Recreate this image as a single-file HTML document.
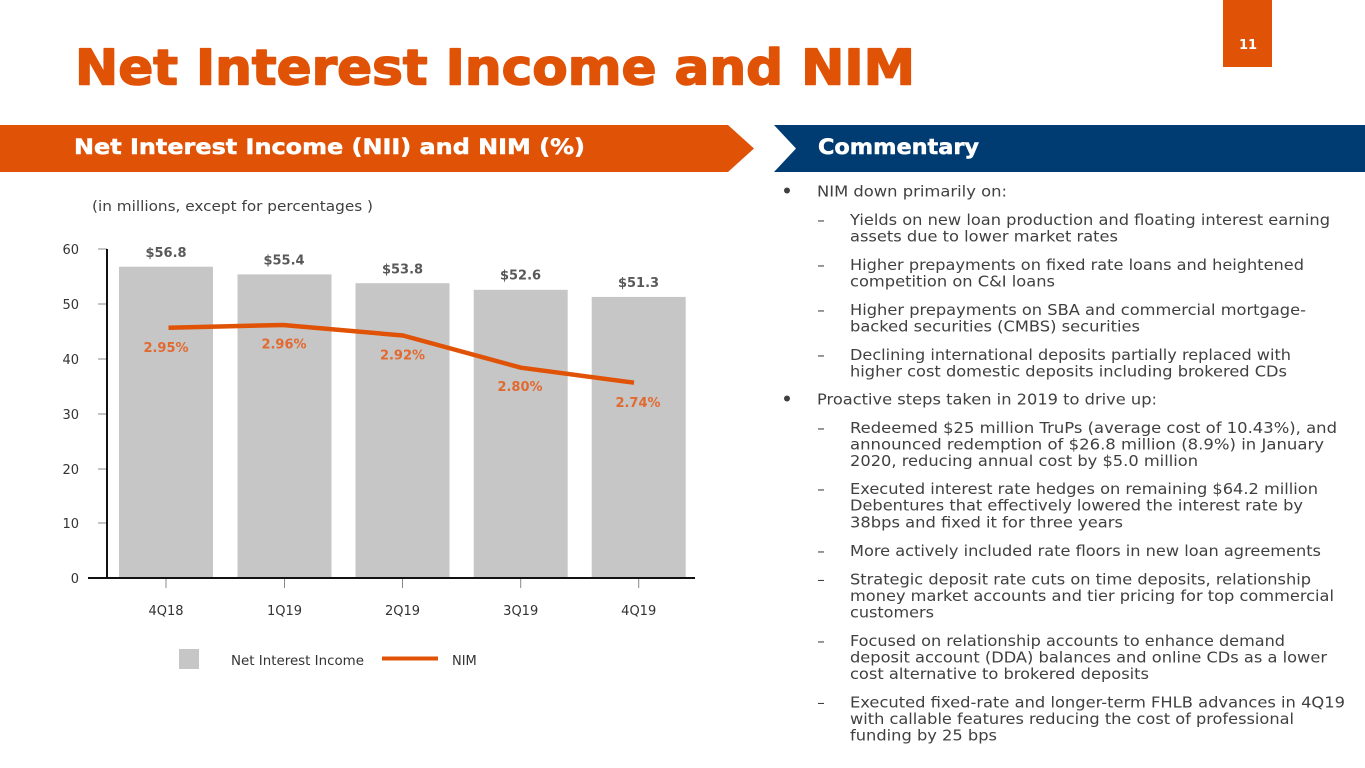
<!DOCTYPE html>
<html><head><meta charset="utf-8"><style>
html,body{margin:0;padding:0;background:#fff;}
svg{display:block;}
</style></head><body>
<svg width="1365" height="768" viewBox="0 0 1365 768" xmlns="http://www.w3.org/2000/svg" font-family="'DejaVu Sans','Liberation Sans',sans-serif">
<rect x="0" y="0" width="1365" height="768" fill="#fff"/>
<!-- page number -->
<rect x="1223" y="0" width="49" height="67" fill="#E05206"/>
<text x="1248" y="49" font-size="13" font-weight="bold" fill="#fff" text-anchor="middle">11</text>
<!-- title -->
<text x="75" y="84.5" font-size="49" font-weight="bold" fill="#E05206" stroke="#E05206" stroke-width="1.6" stroke-linejoin="round" textLength="840" lengthAdjust="spacingAndGlyphs">Net Interest Income and NIM</text>
<!-- banners -->
<polygon points="0,125 728,125 754,148.5 728,172 0,172" fill="#E05206"/>
<polygon points="774,125 1365,125 1365,172 774,172 796,148.5" fill="#003B71"/>
<text x="74" y="154" font-size="21" font-weight="bold" fill="#fff" stroke="#fff" stroke-width="0.5" textLength="511" lengthAdjust="spacingAndGlyphs">Net Interest Income (NII) and NIM (%)</text>
<text x="818" y="154" font-size="21" font-weight="bold" fill="#fff" stroke="#fff" stroke-width="0.5" textLength="161" lengthAdjust="spacingAndGlyphs">Commentary</text>

<!-- chart -->
<text x="92" y="211" font-size="14" fill="#404040" textLength="281" lengthAdjust="spacingAndGlyphs">(in millions, except for percentages )</text>
<g fill="#C6C6C6">
<rect x="119" y="266.7" width="94" height="311.3"/>
<rect x="237.5" y="274.4" width="94" height="303.6"/>
<rect x="355.5" y="283.2" width="94" height="294.8"/>
<rect x="473.7" y="289.8" width="94" height="288.2"/>
<rect x="591.7" y="296.9" width="94" height="281.1"/>
</g>
<!-- y axis -->
<g stroke="#888" stroke-width="1">
<line x1="98" y1="249" x2="107" y2="249"/>
<line x1="98" y1="304" x2="107" y2="304"/>
<line x1="98" y1="359" x2="107" y2="359"/>
<line x1="98" y1="414" x2="107" y2="414"/>
<line x1="98" y1="469" x2="107" y2="469"/>
<line x1="98" y1="523" x2="107" y2="523"/>
<line x1="166" y1="579" x2="166" y2="588"/>
<line x1="284.5" y1="579" x2="284.5" y2="588"/>
<line x1="402.5" y1="579" x2="402.5" y2="588"/>
<line x1="520.7" y1="579" x2="520.7" y2="588"/>
<line x1="638.7" y1="579" x2="638.7" y2="588"/>
</g>
<line x1="107" y1="249" x2="107" y2="579" stroke="#111" stroke-width="2"/>
<line x1="88" y1="578" x2="695" y2="578" stroke="#111" stroke-width="2"/>
<g font-size="13" fill="#333" text-anchor="end">
<text x="79" y="254">60</text>
<text x="79" y="309">50</text>
<text x="79" y="364">40</text>
<text x="79" y="419">30</text>
<text x="79" y="474">20</text>
<text x="79" y="528">10</text>
<text x="79" y="583">0</text>
</g>
<g font-size="13" fill="#333" text-anchor="middle">
<text x="166" y="615">4Q18</text>
<text x="284.5" y="615">1Q19</text>
<text x="402.5" y="615">2Q19</text>
<text x="520.7" y="615">3Q19</text>
<text x="638.7" y="615">4Q19</text>
</g>
<g font-size="13" font-weight="bold" fill="#595959" text-anchor="middle">
<text x="166" y="257">$56.8</text>
<text x="284" y="264.5">$55.4</text>
<text x="402.5" y="273.5">$53.8</text>
<text x="520.5" y="279.5">$52.6</text>
<text x="638.5" y="287">$51.3</text>
</g>
<polyline points="168.5,327.7 283,325 403,335.5 521,367.7 634,382.7" fill="none" stroke="#E05206" stroke-width="4.5" stroke-linejoin="round"/>
<g font-size="13" font-weight="bold" fill="#E2692F" text-anchor="middle">
<text x="166" y="352">2.95%</text>
<text x="284" y="348.5">2.96%</text>
<text x="402.5" y="359.5">2.92%</text>
<text x="520" y="391">2.80%</text>
<text x="638" y="407">2.74%</text>
</g>
<!-- legend -->
<rect x="179" y="649" width="20" height="20" fill="#C6C6C6"/>
<text x="231" y="665" font-size="13" fill="#333" textLength="133" lengthAdjust="spacingAndGlyphs">Net Interest Income</text>
<line x1="382" y1="658.5" x2="438" y2="658.5" stroke="#E05206" stroke-width="4"/>
<text x="452" y="665" font-size="13" fill="#333">NIM</text>

<!-- commentary -->
<circle cx="787" cy="190.5" r="3" fill="#404040"/>
<circle cx="787" cy="398.5" r="3" fill="#404040"/>
<g font-size="15" fill="#404040">
<text x="817" y="196.5" textLength="190" lengthAdjust="spacingAndGlyphs">NIM down primarily on:</text>
<text x="821" y="225" text-anchor="middle">–</text>
<text x="850" y="225" textLength="480" lengthAdjust="spacingAndGlyphs">Yields on new loan production and floating interest earning</text>
<text x="850" y="241.5" textLength="268" lengthAdjust="spacingAndGlyphs">assets due to lower market rates</text>
<text x="821" y="270" text-anchor="middle">–</text>
<text x="850" y="270" textLength="454" lengthAdjust="spacingAndGlyphs">Higher prepayments on fixed rate loans and heightened</text>
<text x="850" y="286.5" textLength="205" lengthAdjust="spacingAndGlyphs">competition on C&amp;I loans</text>
<text x="821" y="315" text-anchor="middle">–</text>
<text x="850" y="315" textLength="456" lengthAdjust="spacingAndGlyphs">Higher prepayments on SBA and commercial mortgage-</text>
<text x="850" y="331.5" textLength="290" lengthAdjust="spacingAndGlyphs">backed securities (CMBS) securities</text>
<text x="821" y="360" text-anchor="middle">–</text>
<text x="850" y="360" textLength="441" lengthAdjust="spacingAndGlyphs">Declining international deposits partially replaced with</text>
<text x="850" y="376.5" textLength="437" lengthAdjust="spacingAndGlyphs">higher cost domestic deposits including brokered CDs</text>
<text x="817" y="404.5" textLength="340" lengthAdjust="spacingAndGlyphs">Proactive steps taken in 2019 to drive up:</text>
<text x="821" y="433" text-anchor="middle">–</text>
<text x="850" y="433" textLength="487" lengthAdjust="spacingAndGlyphs">Redeemed $25 million TruPs (average cost of 10.43%), and</text>
<text x="850" y="449.5" textLength="474" lengthAdjust="spacingAndGlyphs">announced redemption of $26.8 million (8.9%) in January</text>
<text x="850" y="466" textLength="348" lengthAdjust="spacingAndGlyphs">2020, reducing annual cost by $5.0 million</text>
<text x="821" y="494" text-anchor="middle">–</text>
<text x="850" y="494" textLength="468" lengthAdjust="spacingAndGlyphs">Executed interest rate hedges on remaining $64.2 million</text>
<text x="850" y="510.5" textLength="453" lengthAdjust="spacingAndGlyphs">Debentures that effectively lowered the interest rate by</text>
<text x="850" y="527.5" textLength="273" lengthAdjust="spacingAndGlyphs">38bps and fixed it for three years</text>
<text x="821" y="556" text-anchor="middle">–</text>
<text x="850" y="556" textLength="471" lengthAdjust="spacingAndGlyphs">More actively included rate floors in new loan agreements</text>
<text x="821" y="584.5" text-anchor="middle">–</text>
<text x="850" y="584.5" textLength="461" lengthAdjust="spacingAndGlyphs">Strategic deposit rate cuts on time deposits, relationship</text>
<text x="850" y="601" textLength="484" lengthAdjust="spacingAndGlyphs">money market accounts and tier pricing for top commercial</text>
<text x="850" y="617.5" textLength="84" lengthAdjust="spacingAndGlyphs">customers</text>
<text x="821" y="646" text-anchor="middle">–</text>
<text x="850" y="646" textLength="435" lengthAdjust="spacingAndGlyphs">Focused on relationship accounts to enhance demand</text>
<text x="850" y="662.5" textLength="477" lengthAdjust="spacingAndGlyphs">deposit account (DDA) balances and online CDs as a lower</text>
<text x="850" y="679" textLength="299" lengthAdjust="spacingAndGlyphs">cost alternative to brokered deposits</text>
<text x="821" y="707.5" text-anchor="middle">–</text>
<text x="850" y="707.5" textLength="495" lengthAdjust="spacingAndGlyphs">Executed fixed-rate and longer-term FHLB advances in 4Q19</text>
<text x="850" y="724" textLength="444" lengthAdjust="spacingAndGlyphs">with callable features reducing the cost of professional</text>
<text x="850" y="740.5" textLength="147" lengthAdjust="spacingAndGlyphs">funding by 25 bps</text>
</g>
</svg>
</body></html>
